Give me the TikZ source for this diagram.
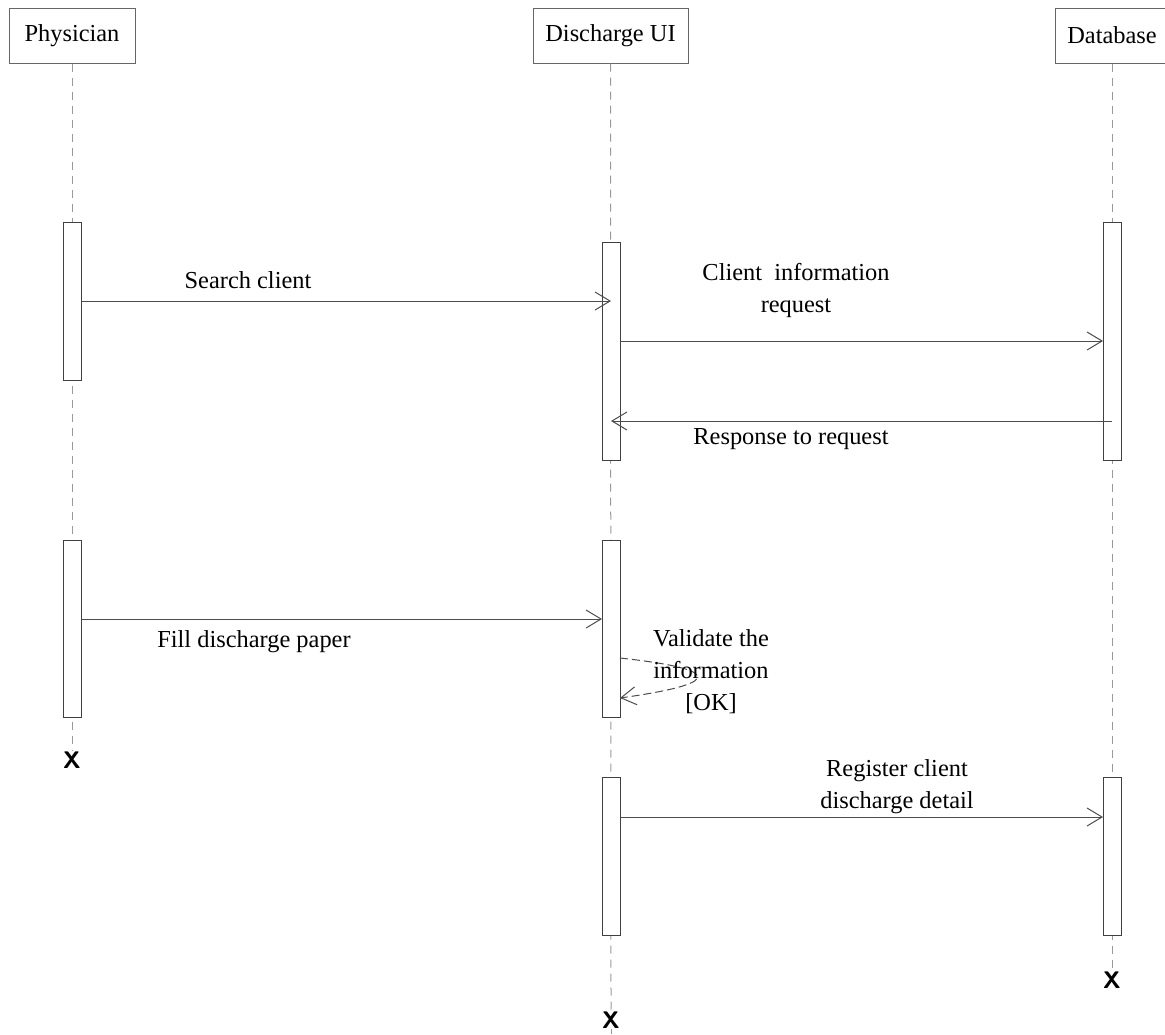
\documentclass[tikz,border=0pt]{standalone}
\usepackage{fontspec}
\setmainfont{Liberation Serif}
\usetikzlibrary{arrows.meta}

\begin{document}
\begin{tikzpicture}[x=0.5pt,y=-0.5pt,
  lbl/.style={font=\fontsize{12.2}{16}\selectfont, align=center, inner sep=0pt},
  actor/.style={draw=black!60, line width=0.5pt, minimum height=27.5pt, inner sep=0pt, font=\fontsize{12.2}{16}\selectfont},
  bar/.style={draw=black!75, fill=white, line width=0.5pt, minimum width=9pt, inner sep=0pt},
  life/.style={gray!80, line width=0.5pt, dash pattern=on 4pt off 3pt},
  msg/.style={-{Straight Barb[length=7.5pt,width=9pt]}, black!70, line width=0.5pt},
  selfmsg/.style={msg, dash pattern=on 4pt off 2pt},
  kill/.style={font=\sffamily\bfseries\fontsize{12}{12}\selectfont, inner sep=0pt}]
\useasboundingbox (0,0) rectangle (1165,1034);
% the three actors
\node[actor, minimum width=63pt] (phys) at (72,35.5) {Physician};
\node[actor, minimum width=77.5pt] (ui) at (610.5,35.5) {Discharge UI};
\node[actor, minimum width=57pt] (db) at (1112,35.5) {Database};
% destruction marks
\node[kill] (physx) at (72,760) {X};
\node[kill] (uix) at (611,1020) {X};
\node[kill] (dbx) at (1112,980) {X};
% lifelines
\draw[life] (phys.south) -- (physx.north);
\draw[life] (ui.south) -- (uix.north);
\draw[gray!80, line width=0.5pt] (uix.south) -- (611,1034);
\draw[life] (db.south) -- (dbx.north);
% activation bars
\node[bar, minimum height=79pt] (pbar1) at (72,301) {};
\node[bar, minimum height=88.5pt] (pbar2) at (72,628.5) {};
\node[bar, minimum height=109pt] (ubar1) at (611,351) {};
\node[bar, minimum height=88.5pt] (ubar2) at (611,628.5) {};
\node[bar, minimum height=79pt] (ubar3) at (611,856) {};
\node[bar, minimum height=119pt] (dbar1) at (1112,341) {};
\node[bar, minimum height=79pt] (dbar2) at (1112,856) {};
% message end points
\coordinate (search0) at (81,301); \coordinate (search1) at (611,301);
\coordinate (req0) at (620,341); \coordinate (req1) at (1103,341);
\coordinate (resp0) at (1112,421); \coordinate (resp1) at (611,421);
\coordinate (fill0) at (81,619); \coordinate (fill1) at (602,619);
\coordinate (val0) at (620,658); \coordinate (val1) at (620,698);
\coordinate (reg0) at (620,817); \coordinate (reg1) at (1103,817);
% messages
\draw[msg] (search0) -- (search1);
\draw[msg] (req0) -- (req1);
\draw[msg] (resp0) -- (resp1);
\draw[msg] (fill0) -- (fill1);
\draw[selfmsg] (val0) .. controls (712,668) and (734,682) .. (val1);
\draw[msg] (reg0) -- (reg1);
% message labels
\node[lbl] (searchl) at (248,280) {Search client};
\node[lbl] (reql) at (796,290) {Client\ \ information\\request};
\node[lbl] (respl) at (791,439) {Response to request};
\node[lbl] (filll) at (254,642) {Fill discharge paper};
\node[lbl] (vall) at (711,672) {Validate the\\information\\{[OK]}};
\node[lbl] (regl) at (897,787) {Register client\\discharge detail};
\end{tikzpicture}
\end{document}
